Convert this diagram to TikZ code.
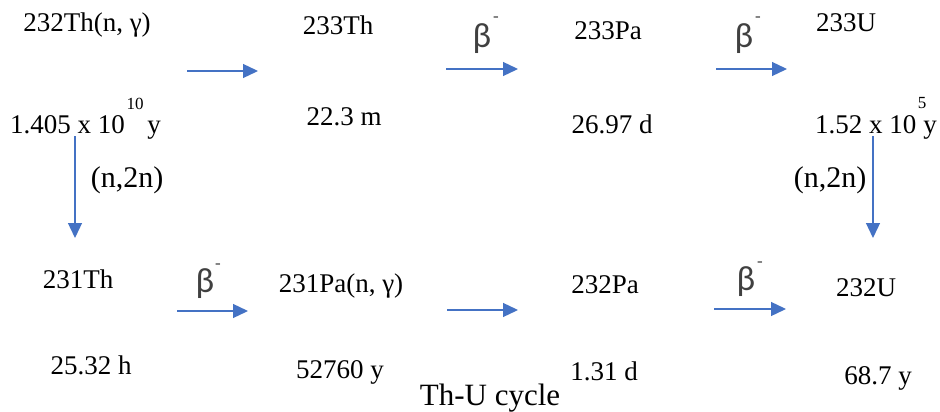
\documentclass[tikz,border=0pt]{standalone}
\usepackage{fontspec}
\setmainfont{Liberation Serif}
\newfontfamily\betafont{Carlito}
\usetikzlibrary{arrows.meta}
\definecolor{arrblue}{HTML}{4472C4}
\definecolor{betagrey}{HTML}{404040}
\begin{document}
\begin{tikzpicture}[x=1pt,y=-1pt,
  lbl/.style={anchor=base,inner sep=0pt,font=\fontsize{27}{31}\selectfont},
  rxn/.style={anchor=base,inner sep=0pt,font=\fontsize{30}{34}\selectfont},
  beta/.style={anchor=base,inner sep=0pt,text=betagrey,font=\betafont\fontsize{35}{39}\selectfont},
  sup/.style={anchor=base,inner sep=0pt,font=\fontsize{17}{20}\selectfont},
  arr/.style={draw=arrblue,line width=1.3pt,-{Triangle[length=15pt,width=14pt]}},
  title/.style={anchor=base,inner sep=0pt,font=\fontsize{31}{36}\selectfont}]
\useasboundingbox (0,0) rectangle (940,412);
% top row
\node[lbl] (th232) at (87,32) {232Th(n, γ)};
\node[lbl] (th233) at (338,35) {233Th};
\node[lbl] (pa233) at (608,40) {233Pa};
\node[lbl] (u233) at (846,32) {233U};
\node[lbl,anchor=base west] (th232t) at (10,133) {1.405 x 10};
\node[sup] (th232e) at (135,109) {10};
\node[lbl] (th232y) at (154,133) {y};
\node[lbl] (th233t) at (344,125) {22.3 m};
\node[lbl] (pa233t) at (612,133) {26.97 d};
\node[lbl,anchor=base west] (u233t) at (815,133) {1.52 x 10};
\node[sup] (u233e) at (922,108) {5};
\node[lbl] (u233y) at (930,133) {y};
% betas top
\node[beta] (b1) at (482,48) {β};
\node[sup,text=betagrey] (b1m) at (496,22) {-};
\node[beta] (b2) at (744,48) {β};
\node[sup,text=betagrey] (b2m) at (758,22) {-};
% arrows top
\coordinate (a1s) at (187,71); \coordinate (a1e) at (258,71);
\coordinate (a2s) at (446,69); \coordinate (a2e) at (518,69);
\coordinate (a3s) at (716,69); \coordinate (a3e) at (787,69);
\draw[arr] (a1s) -- (a1e);
\draw[arr] (a2s) -- (a2e);
\draw[arr] (a3s) -- (a3e);
% vertical arrows
\coordinate (v1s) at (75,136); \coordinate (v1e) at (75,238);
\coordinate (v2s) at (873,136); \coordinate (v2e) at (873,238);
\draw[arr] (v1s) -- (v1e);
\draw[arr] (v2s) -- (v2e);
\node[rxn] (n2n1) at (127,187) {(n,2n)};
\node[rxn] (n2n2) at (830,187) {(n,2n)};
% bottom row
\node[lbl] (th231) at (78,288) {231Th};
\node[lbl] (pa231) at (341,292) {231Pa(n, γ)};
\node[lbl] (pa232) at (605,293) {232Pa};
\node[lbl] (u232) at (866,296) {232U};
\node[lbl] (th231t) at (91,374) {25.32 h};
\node[lbl] (pa231t) at (340,378) {52760 y};
\node[lbl] (pa232t) at (604,380) {1.31 d};
\node[lbl] (u232t) at (878,384) {68.7 y};
\node[beta] (b3) at (205,292) {β};
\node[sup,text=betagrey] (b3m) at (218,268) {-};
\node[beta] (b4) at (746,290) {β};
\node[sup,text=betagrey] (b4m) at (760,266) {-};
\coordinate (a4s) at (177,311); \coordinate (a4e) at (248,311);
\coordinate (a5s) at (447,310); \coordinate (a5e) at (518,310);
\coordinate (a6s) at (714,309); \coordinate (a6e) at (786,309);
\draw[arr] (a4s) -- (a4e);
\draw[arr] (a5s) -- (a5e);
\draw[arr] (a6s) -- (a6e);
\node[title] (cap) at (490,405) {Th-U cycle};
\end{tikzpicture}
\end{document}
